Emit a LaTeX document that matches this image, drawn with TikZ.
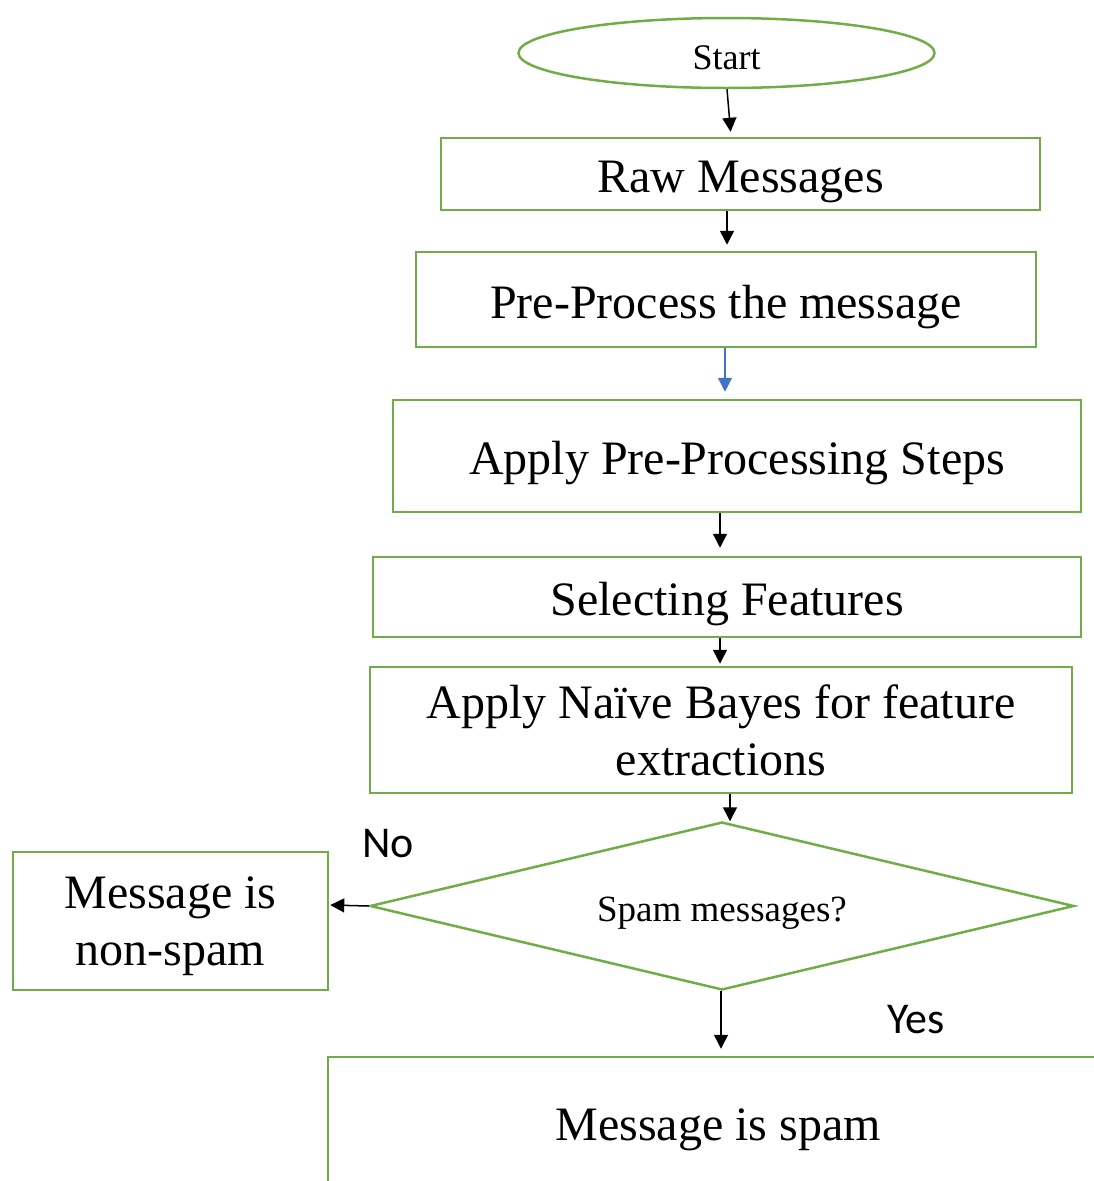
\documentclass[tikz,border=0pt]{standalone}
\usepackage{fontspec}
\setmainfont{Liberation Serif}
\newfontfamily\labfont{Carlito}
\usetikzlibrary{shapes.geometric,arrows.meta,calc}
\definecolor{boxgreen}{HTML}{70AD47}
\definecolor{arrowblue}{HTML}{4472C4}
\tikzset{
  flowbox/.style={draw=boxgreen, line width=2.5pt, inner sep=0pt, align=center,
    font=\fontsize{48}{57}\selectfont},
  oneline/.style={text height=44pt, text depth=7pt},
  startshape/.style={ellipse, draw=boxgreen, line width=2.5pt, inner sep=0pt,
    font=\fontsize{36}{40}\selectfont, text height=32pt, text depth=0pt},
  decide/.style={diamond, aspect=4.2, draw=boxgreen, line width=2.5pt, inner sep=0pt,
    font=\fontsize{37}{40}\selectfont, text height=36pt, text depth=6pt},
  flowarrow/.style={draw=black, line width=1.5pt, -{Triangle[width=14pt,length=14pt]}},
  bluearrow/.style={draw=arrowblue, line width=1.5pt, -{Triangle[width=14pt,length=14pt]}},
  answer/.style={font=\labfont\fontsize{44}{48}\selectfont, inner sep=0pt}
}
\begin{document}
\begin{tikzpicture}[x=1pt,y=-1pt]
\useasboundingbox (0,0) rectangle (1094,1181);
\clip (0,0) rectangle (1094,1181);
\node[startshape, minimum width=416pt, minimum height=70pt] (start) at (726.5,53) {Start};
\node[flowbox, oneline, minimum width=599pt, minimum height=72pt] (raw) at (740.5,174) {Raw Messages};
\node[flowbox, oneline, minimum width=620pt, minimum height=95pt] (pre) at (726,299.5) {Pre-Process the message};
\node[flowbox, oneline, minimum width=688pt, minimum height=112pt] (apply) at (737,456) {Apply Pre-Processing Steps};
\node[flowbox, oneline, minimum width=708pt, minimum height=80pt] (sel) at (727,597) {Selecting Features};
\node[flowbox, text depth=-5pt, minimum width=702pt, minimum height=126pt] (nb) at (721,730) {Apply Naïve Bayes for feature\\extractions};
\node[decide, minimum width=704pt, minimum height=168pt] (dec) at (722,906) {Spam messages?};
\node[flowbox, text depth=-4pt, minimum width=315pt, minimum height=138pt] (non) at (170.5,921) {Message is\\non-spam};
\node[flowbox, text height=40pt, text depth=9pt, minimum width=780pt, minimum height=136pt] (spam) at (718,1125) {Message is spam};
\node[answer, anchor=base west] (no) at (362,857) {No};
\node[answer, anchor=base west] (yes) at (887,1033) {Yes};
\draw[flowarrow, shorten >=5pt] ([xshift=0.5pt]start.south) -- ([xshift=-9.5pt]raw.north);
\draw[flowarrow, shorten >=6pt] ([xshift=-13.5pt]raw.south) -- ([xshift=-13.5pt]raw.south |- pre.north);
\draw[bluearrow, shorten >=7pt] ([xshift=-1pt]pre.south) -- ([xshift=-1pt]pre.south |- apply.north);
\draw[flowarrow, shorten >=8pt] ([xshift=-17pt]apply.south) -- ([xshift=-17pt]apply.south |- sel.north);
\draw[flowarrow, shorten >=2pt] ([xshift=-7pt]sel.south) -- ([xshift=-7pt]sel.south |- nb.north);
\coordinate (dtop) at ($(nb.south)+(9pt,-27pt)$);
\draw[flowarrow] ([xshift=9pt]nb.south) -- (dtop);
\draw[flowarrow, shorten >=1pt] (dec.west) -- ([yshift=16pt]non.east);
\draw[flowarrow, shorten >=7pt] ([xshift=-1pt]dec.south) -- ([xshift=-1pt]dec.south |- spam.north);
\end{tikzpicture}
\end{document}
